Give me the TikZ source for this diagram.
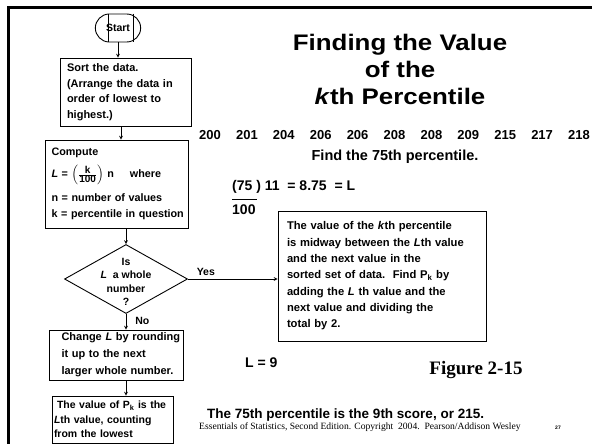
\documentclass[tikz,border=0pt]{standalone}
\usepackage{amsmath}
\usepackage{fontspec}
\setmainfont{Liberation Sans}
\newfontfamily\titlefont[FakeStretch=1.15]{Liberation Sans}
\newfontfamily\timesfont{Liberation Serif}
\usetikzlibrary{shapes,arrows,positioning}

\begin{document}
\begin{tikzpicture}[
  x=1pt, y=-1pt,
  block/.style={draw, line width=0.9pt, align=left, inner sep=0pt, font=\fontsize{11}{15.5}\selectfont\bfseries},
  arrow/.style={->, >=stealth, line width=0.7pt},
  txt/.style={inner sep=0pt, font=\fontsize{14}{16}\selectfont\bfseries}
]
  \useasboundingbox (0,0) rectangle (592,444);

  % Slide frame
  \draw[line width=3pt] (8,444) -- (8,8) -- (592,8);

  % Flowchart
  \node[draw, rounded rectangle, minimum width=52pt, minimum height=28pt, line width=0.9pt, font=\fontsize{10.5}{12}\selectfont\bfseries] (start) at (118,28) {Start};
  \draw[line width=0.9pt] ([xshift=-10pt]start.north) -- ([xshift=-10pt]start.south);
  \draw[line width=0.9pt] ([xshift=15pt]start.north) -- ([xshift=15pt]start.south);

  \node[block, minimum width=131pt, minimum height=68pt, text width=117pt] (sort) at (125.5,92) {Sort the data.\\(Arrange the data in\\order of lowest to\\highest.)};
  \node[block, minimum width=143pt, minimum height=88pt, text width=136pt, font=\fontsize{10.8}{16}\selectfont\bfseries] (compute) at (116.5,184) {\hspace*{3pt}Compute\\[6pt]\hspace*{3pt}\textit{L} = $\Bigl(\frac{\text{\fontsize{10}{10}\selectfont k}}{\text{\fontsize{10}{10}\selectfont 100}}\Bigr)$ n\hspace{16pt}where\\[8pt]\hspace*{3pt}n = number of values\\\hspace*{3pt}k = percentile in question};
  \node[draw, diamond, minimum width=123pt, minimum height=69pt, inner sep=0pt, line width=0.9pt] (isL) at (126,279) {};
  \node[txt, align=center, font=\fontsize{10.5}{13.5}\selectfont\bfseries] (isLtext) at (126,282) {Is\\\textit{L}\ \ a whole\\number\\?};
  \node[block, minimum width=134pt, minimum height=50pt, text width=121pt, font=\fontsize{11}{17}\selectfont\bfseries] (change) at (116,355) {\hspace*{6pt}\mbox{Change \textit{L} by rounding}\\\hspace*{6pt}it up to the next\\\hspace*{6pt}\mbox{larger whole number.}};
  \node[block, minimum width=121pt, minimum height=47pt, text width=117pt, font=\fontsize{10.5}{14.5}\selectfont\bfseries] (value) at (112.5,419.5) {\hspace*{3pt}The value of P\textsubscript{k} is the\\\textit{L}th value, counting\\from the lowest};
  \node[block, minimum width=208pt, minimum height=130pt, text width=190pt, font=\fontsize{11.2}{16.3}\selectfont\bfseries] (midway) at (382,276) {The value of the \textit{k}th percentile\\is midway between the \textit{L}th value\\and the next value in the\\sorted set of data.\ \ Find P\textsubscript{k} by\\adding the \textit{L} th value and the\\next value and dividing the\\total by 2.};

  % Arrows
  \draw[arrow] (start.south) -- (start.south |- sort.north);
  \draw[arrow] ([xshift=-4.5pt]sort.south) -- ([xshift=-4.5pt]sort.south |- compute.north);
  \draw[arrow] (compute.south -| isL.north) -- (isL.north);
  \draw[arrow] (isL.east) -- (isL.east -| midway.west) node[pos=0.2, above=3pt, txt, font=\fontsize{10.5}{12}\selectfont\bfseries] {Yes};
  \draw[arrow] (isL.south) -- (isL.south |- change.north) node[pos=0.45, right=9pt, txt, font=\fontsize{10.5}{12}\selectfont\bfseries] {No};
  \draw[arrow] (isL.south |- change.south) -- (isL.south |- value.north);

  % Title and data
  \node[inner sep=0pt, align=center, font=\titlefont\bfseries\fontsize{22.5}{27}\selectfont] (title) at (400,69) {Finding the Value\\of the\\\textit{k}th Percentile};
  \foreach \v [count=\i] in {200,201,204,206,206,208,208,209,215,217,218}
    \node[txt, font=\fontsize{13}{15}\selectfont\bfseries] (d\i) at ({210+36.9*(\i-1)},135) {\v};
  \node[txt, font=\fontsize{14.5}{16}\selectfont\bfseries] (find) at (395,157) {Find the 75th percentile.};
  \node[txt, anchor=west] (num) at (232,187) {(75 ) 11\ \ = 8.75\ \ = L};
  \node[txt, anchor=west] (den) at (232,210) {100};
  \draw[line width=0.9pt] ([yshift=5pt]den.north west) -- ([yshift=5pt, xshift=25pt]den.north west);
  \node[txt, anchor=west] (Lnine) at (245,363) {L = 9};
  \node[inner sep=0pt, font=\timesfont\bfseries\fontsize{19}{22}\selectfont] (fig) at (476,370) {Figure 2-15};
  \node[txt, anchor=west, font=\fontsize{13.5}{16}\selectfont\bfseries] (answer) at (207,415) {The 75th percentile is the 9th score, or 215.};
  \node[inner sep=0pt, anchor=west, font=\timesfont\fontsize{9.6}{11}\selectfont] (footer) at (199,427) {Essentials of Statistics, Second Edition. Copyright\ \ 2004.\ \ Pearson/Addison Wesley};
  \node[txt, font=\fontsize{5}{6}\selectfont\bfseries] (page) at (558,428) {27};
\end{tikzpicture}
\end{document}
